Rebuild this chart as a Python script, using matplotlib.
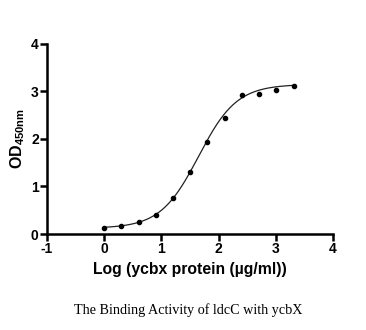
import numpy as np
import matplotlib
matplotlib.use("Agg")
import matplotlib.pyplot as plt

plt.rcParams['mathtext.fontset'] = 'custom'
plt.rcParams['mathtext.rm'] = 'Liberation Sans:bold'
plt.rcParams['mathtext.bf'] = 'Liberation Sans:bold'
plt.rcParams['mathtext.it'] = 'Liberation Sans:bold'

# Data
log_conc = [0.0, 0.301, 0.602, 0.903, 1.204, 1.505, 1.806, 2.107, 2.408, 2.709, 3.010, 3.311]
od450 = [0.13, 0.17, 0.26, 0.40, 0.76, 1.30, 1.94, 2.45, 2.92, 2.95, 3.03, 3.12]

# 4-parameter logistic fit parameters (estimated)
fit_bottom, fit_top, fit_logec50, fit_hill = 0.12, 3.15, 1.65, 1.3

x_ticks = [-1, 0, 1, 2, 3, 4]
y_ticks = [0, 1, 2, 3, 4]
x_label = "Log (ycbx protein (\u00b5g/ml))"
title = "The Binding Activity of ldcC with ycbX"

fig = plt.figure(figsize=(3.66, 3.30), dpi=100)
ax = fig.add_axes([0.1284, 0.2909, 0.7814, 0.5758])

xf = np.linspace(min(log_conc), max(log_conc), 300)
yf = fit_bottom + (fit_top - fit_bottom) / (1 + 10 ** ((fit_logec50 - xf) * fit_hill))
ax.plot(xf, yf, color="#222222", lw=0.9)
ax.plot(log_conc, od450, "o", color="black", ms=3.0)

ax.set_xlim(-1, 4)
ax.set_ylim(0, 4)
ax.set_xticks(x_ticks)
ax.set_yticks(y_ticks)
ax.set_xticklabels([str(t) for t in x_ticks])
ax.set_yticklabels([str(t) for t in y_ticks])
for s in ["top", "right"]:
    ax.spines[s].set_visible(False)
for s in ["left", "bottom"]:
    ax.spines[s].set_linewidth(1.8)
ax.tick_params(direction="out", length=5, width=1.8, pad=1,
               labelsize=10)
for lab in ax.get_xticklabels() + ax.get_yticklabels():
    lab.set_fontfamily("Liberation Sans")
    lab.set_fontweight("bold")

ax.set_xlabel(x_label, fontsize=11.3, fontweight="bold", family="Liberation Sans", labelpad=4)
ax.set_ylabel(r"OD$_{\mathrm{450nm}}$", fontsize=11.5, fontweight="bold",
              family="Liberation Sans", labelpad=3)

fig.text(0.515, 0.06, title, ha="center", va="center",
         fontsize=10.2, family="Liberation Serif")

fig.savefig("out.png", dpi=100)
